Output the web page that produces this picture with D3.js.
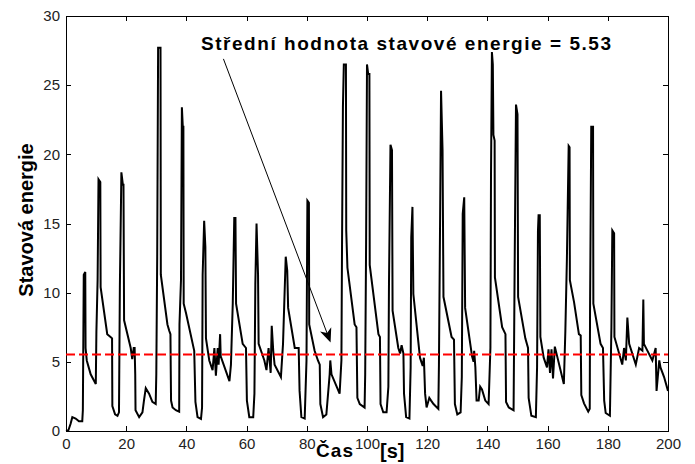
<!DOCTYPE html>
<html lang="cs">
<head>
<meta charset="UTF-8">
<title>Stavová energie</title>
<script src="https://cdn.jsdelivr.net/npm/d3@7/dist/d3.min.js"></script>
<style>
  body { margin: 0; background: #fff; }
  svg { display: block; font-family: Arial, "Liberation Sans", sans-serif; }
</style>
</head>
<body>
<svg width="695" height="464"></svg>
<script>

    // stavová energie v čase, dvojice [čas (s), energie]
    var energy0_40 = [
        [0,0],[0.8,0.05],[1.5,0.5],[2.1,1.0],[3.2,0.9],[4.3,0.7],[5.4,0.7],[5.6,1.5],
        [5.9,11.3],[6.4,11.5],[6.5,6.0],[6.9,5.1],[8.2,4.1],[9.9,3.4],[10.1,7.2],[10.5,10.9],
        [10.8,18.2],[11.4,18.0],[11.5,10.4],[13.7,7.0],[14.8,6.8],[15.3,6.7],[15.4,1.8],[16.3,1.2],
        [17.1,1.1],[17.6,1.35],[17.9,10.5],[18.4,18.7],[18.9,17.8],[19.1,17.8],[19.3,8.0],
        [21.5,6.0],[22.0,5.2],[22.5,6.0],[22.8,6.0],[23.0,4.1],[23.1,1.5],[24.3,1.0],[25.4,1.35],
        [25.9,2.2],[26.5,3.1],[27.6,2.7],[28.7,2.1],[29.8,1.95],[30.0,4.1],[30.3,12.6],[30.6,27.7],
        [31.4,27.7],[31.5,11.3],[33.7,7.7],[34.3,7.25],[34.7,7.0],[34.8,4.4],[34.9,2.2],[35.4,1.7],
        [36.5,1.5],[37.6,1.4],[37.7,7.7],[38.2,10.9],[38.5,23.4],[38.8,22.0],[39.0,22.0],[39.1,9.2],
        [39.9,8.5]
    ];
    var energy40_80 = [
        [42.1,6.3],[42.6,5.8],[43.0,2.1],[43.7,1.0],[44.85,0.87],[45.2,1.7],[45.4,11.3],[45.9,15.2],
        [46.3,13.3],[46.5,6.7],[47.6,5.1],[48.7,4.4],[49.3,6.0],[49.8,4.0],[50.4,6.0],[50.7,4.8],
        [51.2,7.0],[51.4,5.4],[54.3,3.6],[54.8,4.8],[55.4,9.2],[55.9,15.4],[56.3,15.4],[56.5,9.2],
        [58.7,6.3],[59.8,6.0],
        [60.1,2.2],[60.9,1.0],[62.2,1.0],[62.6,2.7],[62.9,10.6],[63.3,15.0],[63.8,11.3],[64.0,6.3],
        [65.9,5.1],[66.6,4.4],[67.3,6.0],[68.0,4.2],[68.35,7.6],[68.85,5.8],[69.3,4.8],[71.4,3.9],
        [72.1,6.3],[73.0,12.6],[73.5,11.6],[73.8,8.9],[76.0,6.0],[77.3,6.0],[77.6,2.9],[78.2,1.0],
        [79.3,0.9],[79.9,5.1]
    ];
    var energy80_120 = [
        [80.2,16.65],[80.7,16.5],[80.8,7.7],[82.6,5.8],[83.7,5.1],[84.3,4.8],[84.5,1.95],[85.4,1.0],
        [86.5,1.2],[87.6,4.1],[87.8,5.1],[88.2,4.1],[90.9,2.7],[91.5,5.1],[91.7,13.3],[92.0,23.4],
        [92.3,26.5],[93.0,26.5],[93.1,14.5],[93.5,11.8],[95.9,7.7],[96.5,7.5],[96.8,2.4],[97.6,1.95],
        [99.2,1.7],[99.4,4.1],[99.7,13.5],[100.0,26.5],
        [100.4,25.8],[100.8,25.8],[100.9,12.0],[103.8,7.0],[104.3,6.8],[104.5,1.95],[105.4,1.35],
        [106.5,1.35],[107.1,3.2],[107.3,10.6],[107.8,20.7],[108.3,20.3],[108.5,8.7],[110.4,6.0],
        [111.0,5.6],[111.5,6.2],[112.1,5.6],[112.3,2.7],[113.0,1.0],[114.1,0.9],[114.5,4.6],
        [114.7,14.0],[115.1,16.2],[115.4,9.9],[117.6,5.3],[118.5,4.7],[118.9,5.3],[119.3,2.7],
        [119.8,1.7]
    ];
    var energy120_160 = [
        [120.7,2.4],[121.3,2.2],[122.1,1.95],[123.7,1.6],[123.9,4.8],[124.3,15.7],[124.6,24.6],
        [125.1,20.3],[125.4,9.7],[128.1,6.8],[128.9,6.6],[129.2,1.95],[130.0,1.2],[131.1,1.35],
        [131.5,3.9],[131.8,15.7],[132.3,16.9],[132.6,8.9],[134.9,5.4],[135.4,5.0],[135.6,5.8],
        [136.0,4.6],[136.4,2.2],[137.1,2.2],[137.6,3.2],[138.2,3.0],[139.3,2.2],
        [140.4,1.95],[141.0,6.0],[141.2,18.6],[141.5,27.4],[141.8,26.5],[142.0,21.4],[142.4,21.0],
        [142.5,11.1],[144.9,7.5],[146.0,7.0],[146.2,2.1],[147.1,1.7],[148.7,1.5],[149.05,11.8],
        [149.5,23.6],[150.0,22.9],[150.2,9.7],[152.6,6.7],[153.5,6.0],[153.7,2.4],[154.6,1.1],
        [156.1,1.0],[156.5,4.6],[156.8,14.5],[157.0,15.6],[157.4,15.6],[157.6,6.8],[158.7,5.3],
        [159.8,4.6]
    ];
    var energy160_200 = [
        [160.3,5.9],[160.8,4.2],[161.3,5.9],[161.8,3.8],[162.4,6.1],[165.4,3.4],[165.9,7.25],
        [166.4,12.3],[167.0,20.6],[167.3,20.5],[167.4,10.9],[168.8,9.3],[170.4,7.0],[171.0,6.9],
        [171.2,2.6],[172.1,2.0],[173.5,1.4],[174.0,1.6],[174.1,8.7],[174.5,22.0],[175.1,22.0],
        [175.2,9.2],[177.6,6.3],[178.4,6.0],[178.8,2.2],[179.3,1.3],
        [180.7,1.1],[181.2,7.5],[181.5,14.5],[182.1,14.3],[182.2,6.8],[184.8,4.8],[185.4,6.0],
        [186.0,5.1],[186.5,8.2],[187.1,6.3],[189.3,4.8],[190.4,6.0],[191.5,5.8],[191.8,9.5],
        [192.0,6.3],[194.8,5.1],[195.9,6.0],[196.2,2.9],[196.6,3.9],[197.1,5.1],[197.5,4.6],
        [198.7,3.9],[200,2.9]
    ];

    var xTicks = [0, 20, 40, 60, 80, 100, 120, 140, 160, 180, 200];
    var yTicks = [0, 5, 10, 15, 20, 25, 30];
    var meanValue = 5.53;

    var titleText = "Střední hodnota stavové energie = " + meanValue;
    var yLabel = "Stavová energie";

    // šipka popisku (v jednotkách grafu)
    var arrowStart = [52.3, 26.9],
        arrowEnd = [87.9, 6.4];

    var energy = energy0_40.concat(energy40_80, energy80_120, energy120_160, energy160_200);

    var svg = d3.select("svg"),
        width = +svg.attr("width"),
        height = +svg.attr("height"),
        margin = {top: 16, right: 27, bottom: 33, left: 66};

    var x = d3.scaleLinear().domain([0, 200]).range([margin.left, width - margin.right]);
    var y = d3.scaleLinear().domain([0, 30]).range([height - margin.bottom, margin.top]);

    function styleAxis(g) {
        g.attr("font-size", 15).attr("font-family", "Arial, 'Liberation Sans', sans-serif");
        g.selectAll("path.domain").attr("stroke", "#000").attr("shape-rendering", "crispEdges");
        g.selectAll(".tick line").attr("stroke", "#000").attr("shape-rendering", "crispEdges");
        g.selectAll(".tick text").attr("fill", "#222");
    }

    //osy, tiky dovnitř jako v MATLABu
    svg.append("g")
        .attr("transform", "translate(0," + y(0) + ")")
        .call(d3.axisBottom(x).tickValues(xTicks).tickSize(-5).tickSizeOuter(0).tickPadding(7))
        .call(styleAxis);
    svg.append("g")
        .attr("transform", "translate(0," + y(30) + ")")
        .call(d3.axisTop(x).tickValues(xTicks).tickSize(-5).tickSizeOuter(0).tickFormat(""))
        .call(styleAxis);
    svg.append("g")
        .attr("transform", "translate(" + x(0) + ",0)")
        .call(d3.axisLeft(y).tickValues(yTicks).tickSize(-5).tickSizeOuter(0).tickPadding(6))
        .call(styleAxis);
    svg.append("g")
        .attr("transform", "translate(" + x(200) + ",0)")
        .call(d3.axisRight(y).tickValues(yTicks).tickSize(-5).tickSizeOuter(0).tickFormat(""))
        .call(styleAxis);

    //průběh energie
    var line = d3.line()
        .x(function(d) { return x(d[0]); })
        .y(function(d) { return y(d[1]); });

    svg.append("path")
        .datum(energy)
        .attr("fill", "none")
        .attr("stroke", "#000")
        .attr("stroke-width", 2)
        .attr("d", line);

    //střední hodnota
    svg.append("line")
        .attr("x1", x(0)).attr("x2", x(200))
        .attr("y1", y(meanValue)).attr("y2", y(meanValue))
        .attr("stroke", "#ff0000")
        .attr("stroke-width", 2)
        .attr("stroke-dasharray", "9,4");

    //šipka
    var ax0 = x(arrowStart[0]), ay0 = y(arrowStart[1]),
        ax1 = x(arrowEnd[0]), ay1 = y(arrowEnd[1]);
    var len = Math.sqrt((ax1 - ax0) * (ax1 - ax0) + (ay1 - ay0) * (ay1 - ay0)),
        ux = (ax1 - ax0) / len, uy = (ay1 - ay0) / len;
    var headL = 14, headW = 6;
    var bx = ax1 - headL * ux, by = ay1 - headL * uy;

    svg.append("line")
        .attr("x1", ax0).attr("y1", ay0)
        .attr("x2", bx + 4 * ux).attr("y2", by + 4 * uy)
        .attr("stroke", "#000")
        .attr("stroke-width", 1);

    svg.append("path")
        .attr("d", "M" + ax1 + "," + ay1 +
            "L" + (bx - headW * uy) + "," + (by + headW * ux) +
            "L" + (bx + 4 * ux) + "," + (by + 4 * uy) +
            "L" + (bx + headW * uy) + "," + (by - headW * ux) + "Z")
        .attr("fill", "#000");

    //texty
    svg.append("text")
        .attr("x", 201).attr("y", 50)
        .attr("font-size", 19)
        .attr("font-weight", "bold")
        .attr("textLength", 410)
        .attr("lengthAdjust", "spacing")
        .text(titleText);

    svg.append("text")
        .attr("transform", "translate(33,220) rotate(-90)")
        .attr("text-anchor", "middle")
        .attr("font-size", 20)
        .attr("font-weight", "bold")
        .text(yLabel);

    svg.append("text")
        .attr("x", 316).attr("y", 457)
        .attr("font-size", 19)
        .attr("font-weight", "bold")
        .attr("textLength", 37)
        .text("Čas");

    svg.append("text")
        .attr("x", 380).attr("y", 458)
        .attr("font-size", 20)
        .attr("font-weight", "bold")
        .text("[s]");

</script>
</body>
</html>
